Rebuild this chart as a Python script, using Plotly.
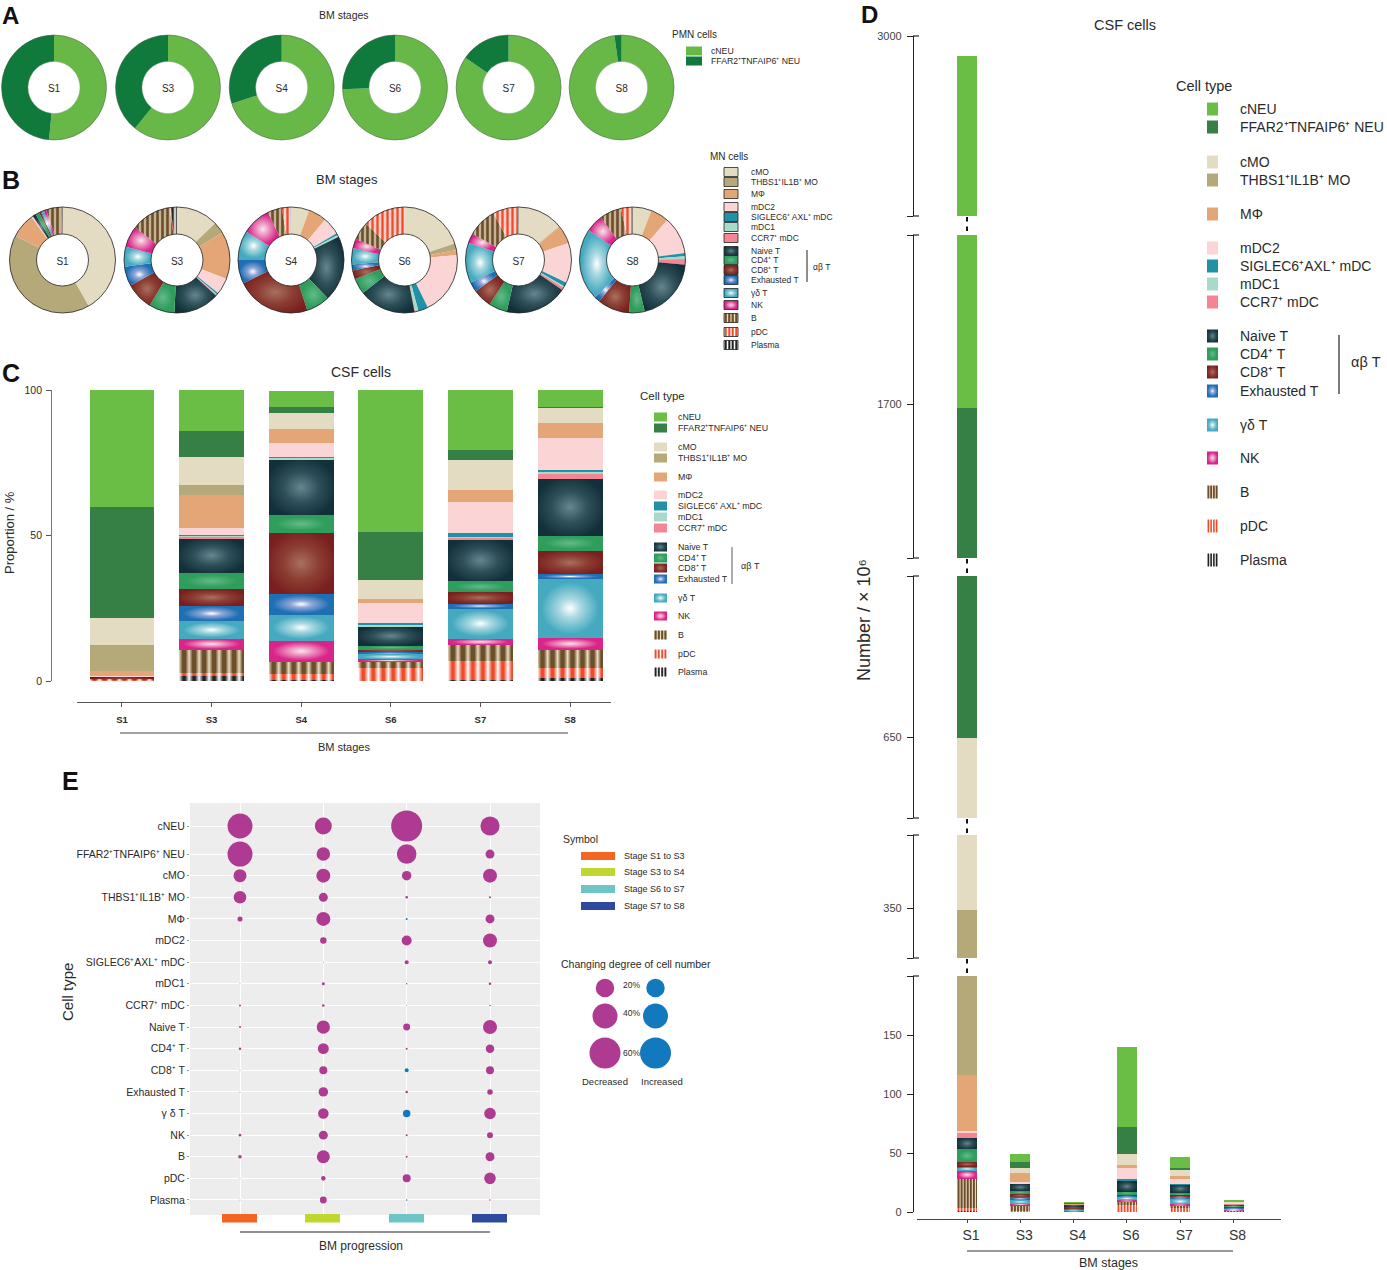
import json
import plotly.graph_objects as go

W, H = 1387, 1270
FONT = "Liberation Sans"
INK = "#2a2a2a"

STAGES = ["S1", "S3", "S4", "S6", "S7", "S8"]
CELLS = ["cNEU", "FFAR2\u207aTNFAIP6\u207a NEU", "cMO", "THBS1\u207aIL1B\u207a MO", "M\u03a6",
         "mDC2", "SIGLEC6\u207aAXL\u207a mDC", "mDC1", "CCR7\u207a mDC", "Naive T",
         "CD4\u207a T", "CD8\u207a T", "Exhausted T", "\u03b3\u03b4 T", "NK", "B", "pDC", "Plasma"]
COLORS = ["#6ABD45", "#367F45", "#E3DBC2", "#B5A97A", "#E5A677", "#FBD5D5", "#2191A8", "#A8D9C9", "#F58593",
          "#12303A", "#2E9E57", "#7A1F1F", "#1E6FB3", "#45AAC0", "#D9248A", "#7A5A33", "#EE4B2B", "#222222"]

# Panel A: share of PMN cells, %
pmn_cNEU = [51.5, 60.8, 70.0, 74.5, 84.6, 97.8]
pmn_FFAR = [48.5, 39.2, 30.0, 25.5, 15.4, 2.2]

# Panel B: share of MN cells, % (order = CELLS[2:])
mn_S1 = [42, 41, 7.5, 0.3, 0, 0, 0.2, 1, 1.2, 0.5, 0.3, 0.7, 0.8, 4.5, 0.3, 0.2]
mn_S3 = [12.8, 3.6, 14.4, 5, 0.5, 0.2, 0.3, 14, 7.8, 8.4, 6, 6, 6.5, 12.3, 0.3, 1.9]
mn_S4 = [5.6, 0, 5.6, 5.4, 0.6, 0.6, 0, 20, 7.2, 22.8, 7.2, 9, 8.8, 4.4, 2.5, 0.3]
mn_S6 = [20, 2, 1.5, 19.3, 3, 1, 0.2, 17.4, 4.8, 2.7, 1.8, 5, 2.9, 5.5, 13, 0]
mn_S7 = [14, 0.2, 5.6, 12.2, 1.3, 0.4, 0.8, 19, 5.6, 5.8, 3, 12.3, 3, 8.9, 7.6, 0.2]
mn_S8 = [5.8, 0, 5.6, 11.5, 1, 0.8, 1.7, 19.9, 4.7, 9.8, 1.7, 22, 5.3, 6.7, 3.2, 0.3]
mn_all = [mn_S1, mn_S3, mn_S4, mn_S6, mn_S7, mn_S8]

# Panel C: proportion of CSF cells, % (order = CELLS)
prop_S1 = [40, 38.3, 9.4, 8.9, 1.7, 0.05, 0, 0.05, 0, 0.4, 0.1, 0.1, 0, 0, 0.05, 0.5, 0.2, 0.2]
prop_S3 = [14, 9, 9.7, 3.3, 11.3, 2.5, 0.2, 0.5, 0.4, 11.9, 5.7, 5.6, 5.4, 5.9, 3.8, 8, 1.1, 1.7]
prop_S4 = [5.5, 2.3, 5.4, 0, 4.8, 4.7, 0.3, 0.8, 0, 19, 6, 21, 7.2, 8.9, 7.3, 4.3, 2, 0.3]
prop_S6 = [48.7, 16.5, 6.5, 0, 1.4, 7, 0.7, 0.4, 0, 6.6, 1.4, 0.9, 0.7, 1.7, 0.9, 2.2, 4.4, 0]
prop_S7 = [20.6, 3.5, 10.2, 0, 4.3, 10.5, 1.3, 0.3, 0.6, 14.4, 3.7, 4, 1.7, 10.3, 2.3, 5.5, 6.6, 0.2]
prop_S8 = [5.7, 0.2, 5.5, 0, 4.9, 11, 0.8, 0.8, 1.5, 19.5, 5.3, 8, 1.6, 20.3, 4, 6.5, 3.4, 0.9]
prop_all = [prop_S1, prop_S3, prop_S4, prop_S6, prop_S7, prop_S8]

# Panel D: number of CSF cells, x10^6 (order = CELLS)
num_S1 = [1277, 1034, 305, 228, 48, 1.5, 0, 0, 4, 10, 10.5, 4, 0.5, 3, 7, 25, 1.5, 1.5]
num_S3 = [7, 4.8, 4.8, 0, 7.4, 1.4, 0, 0, 0, 6, 2.8, 2.8, 2.5, 2.8, 1.7, 4.2, 0.4, 0.8]
num_S4 = [0.4, 0.2, 0.4, 0, 0.4, 0.4, 0, 0, 0, 1.5, 0.5, 1.7, 0.6, 0.7, 0.6, 0.4, 0.2, 0.1]
num_S6 = [68, 23, 9.4, 0, 2, 9.4, 2.2, 0, 0, 8.8, 2.5, 1.1, 0.9, 2.6, 1.1, 3.1, 6, 0]
num_S7 = [9.4, 1.7, 5, 0, 2.3, 4.3, 0.3, 0, 0, 7.4, 2, 1.7, 0.8, 5, 0.7, 2.8, 3, 0]
num_S8 = [0.5, 0, 0.5, 0, 0.4, 1, 0.1, 0.1, 0.2, 1.8, 0.5, 0.8, 0.2, 1.9, 0.4, 0.6, 0.3, 0.1]
num_all = [num_S1, num_S3, num_S4, num_S6, num_S7, num_S8]

# Panel E: changing degree, % (positive decreased, negative increased)
TRANSITIONS = ["S1 to S3", "S3 to S4", "S6 to S7", "S7 to S8"]
ROW_LABELS = CELLS[:13] + ["\u03b3 \u03b4 T"] + CELLS[14:]
ROW_INDEX = [0] + [1.296 + k for k in range(17)]
chg_S1_S3 = [39, 39, 10.5, 9.8, 1.6, 0, 0, 0.06, 0.25, 0.25, 0.4, 0.06, -0.06, 0, 0.4, 0.8, 0.06, 0.06]
chg_S3_S4 = [18, 11.4, 12.25, 5, 12.25, 2.6, 0.06, 0.56, 0.4, 11, 7.5, 4, 5.6, 6.9, 5, 10.5, 1.3, 3]
chg_S6_S7 = [60, 24, 5.6, 0.4, -0.25, 6.25, 1, 0.14, -0.06, 3, 0.25, -1, 0.4, -3.5, 0.25, 0.25, 4, -0.14]
chg_S7_S8 = [23, 5, 12.25, 0.25, 5, 12.25, 1, 0.4, 0.14, 12.25, 4.5, 4, 1.9, 8.3, 2.25, 5, 8.3, 0.14]
chg_all = [chg_S1_S3, chg_S3_S4, chg_S6_S7, chg_S7_S8]
PURPLE, BLUE = "#AE3A92", "#1279BF"

# Gradient fills
GLOW = {9: [("0", "#66868F"), (".5", "#2F5058"), ("1", "#12303A")],
        10: [("0", "#63BA8A"), (".7", "#2F9E5C"), ("1", "#2F9E5C")],
        11: [("0", "#A8705F"), (".5", "#8C3E33"), ("1", "#7A1F1F")],
        12: [("0", "#FFFFFF"), (".3", "#8FA6D8"), (".8", "#1E6FB3"), ("1", "#1E6FB3")],
        13: [("0", "#FFFFFF"), (".3", "#A8D8E0"), (".8", "#45AAC0"), ("1", "#45AAC0")],
        14: [("0", "#FBE4EE"), (".3", "#EE9CC4"), (".8", "#D9248A"), ("1", "#D9248A")]}
STRIPE = {15: [("0", "#EBDCC0"), (".35", "#6B4E2A"), (".65", "#6B4E2A"), ("1", "#EBDCC0")],
          16: [("0", "#FFFFFF"), (".4", "#EE4B2B"), (".6", "#EE4B2B"), ("1", "#FFFFFF")],
          17: [("0", "#FFFFFF"), (".4", "#222222"), (".6", "#222222"), ("1", "#FFFFFF")]}


def stops(lst):
    return "".join(f'<stop offset="{o}" stop-color="{c}"/>' for o, c in lst)


defs = ""
for i, st in GLOW.items():
    defs += f'<radialGradient id="g{i}" cx=".5" cy=".5" r=".55">' + stops(st) + "</radialGradient>"
for i, st in STRIPE.items():
    defs += f'<linearGradient id="g{i}b" x1="0" x2="{1/6.5:.4f}" y1="0" y2="0" spreadMethod="repeat">{stops(st)}</linearGradient>'
    defs += f'<linearGradient id="g{i}s" x1="0" x2=".25" y1="0" y2="0" spreadMethod="repeat">{stops(st)}</linearGradient>'
    defs += f'<linearGradient id="g{i}p" gradientUnits="userSpaceOnUse" x1="0" x2="5" y1="0" y2="0" spreadMethod="repeat">{stops(st)}</linearGradient>'

bar_fill, pie_fill = {}, {}
for i in GLOW:
    bar_fill[CELLS[i]] = pie_fill[CELLS[i]] = f"g{i}"
for i in STRIPE:
    bar_fill[CELLS[i]] = f"g{i}b"
    pie_fill[CELLS[i]] = f"g{i}p"


def X(px):
    return px / W


def Y(py):
    return 1 - py / H


annotations, shapes, shape_fill = [], [], {}


def text(x, y, s, size=10, anchor="center", bold=False, angle=0, color=INK):
    annotations.append(dict(x=X(x), y=Y(y), xref="paper", yref="paper", text=s, showarrow=False, xanchor=anchor,
                            yanchor="middle", textangle=angle, borderpad=0,
                            font=dict(size=size, family=FONT, color=color, weight=700 if bold else 400)))


def line(x0, y0, x1, y1, color="#222222", width=1.0):
    shapes.append(dict(type="line", xref="paper", yref="paper", x0=X(x0), x1=X(x1), y0=Y(y0), y1=Y(y1),
                       line=dict(color=color, width=width)))


def rect(x0, y0, x1, y1, fill, border=None, cell=None, layer="above"):
    if cell is not None:
        if cell in GLOW:
            shape_fill[len(shapes)] = f"g{cell}"
        elif cell in STRIPE:
            shape_fill[len(shapes)] = f"g{cell}s"
    shapes.append(dict(type="rect", xref="paper", yref="paper", x0=X(x0), x1=X(x1), y0=Y(y1), y1=Y(y0), fillcolor=fill,
                       layer=layer, line=dict(color=border or fill, width=0.8 if border else 0)))


def circle(cx, cy, r, fill=None, border=None, width=0.8):
    shapes.append(dict(type="circle", xref="paper", yref="paper", x0=X(cx - r), x1=X(cx + r), y0=Y(cy + r), y1=Y(cy - r),
                       fillcolor=fill or "rgba(0,0,0,0)", line=dict(color=border or "rgba(0,0,0,0)", width=width if border else 0)))


fig = go.Figure()

# ---- Panel A
A_CENTERS = [54, 168, 281.7, 395, 508.6, 621.6]
for k, s in enumerate(STAGES):
    cx, cy, r = A_CENTERS[k], 87.5, 52.5
    fig.add_pie(labels=["cNEU", "FFAR2\u207aTNFAIP6\u207a NEU"], values=[pmn_cNEU[k], pmn_FFAR[k]], hole=0.495, sort=False,
                direction="clockwise", rotation=0, textinfo="none", marker=dict(colors=["#67B847", "#0F7A3C"]),
                domain=dict(x=[X(cx - r), X(cx + r)], y=[Y(cy + r), Y(cy - r)]),
                title=dict(text=s, position="middle center", font=dict(size=10, family=FONT, color=INK)))
    circle(cx, cy, r, border="#4a5a4a", width=0.5)
    circle(cx, cy, r * 0.495, border="#8a9a8a", width=0.4)

# ---- Panel B
B_CENTERS = [62.5, 177, 291, 404.5, 518.5, 632.5]
for k, s in enumerate(STAGES):
    cx, cy, r = B_CENTERS[k], 260, 53
    fig.add_pie(labels=CELLS[2:], values=mn_all[k], hole=0.49, sort=False, direction="clockwise", rotation=0,
                textinfo="none", marker=dict(colors=COLORS[2:]),
                domain=dict(x=[X(cx - r), X(cx + r)], y=[Y(cy + r), Y(cy - r)]),
                title=dict(text=s, position="middle center", font=dict(size=10, family=FONT, color=INK)))
    circle(cx, cy, r, border="#222222", width=0.8)
    circle(cx, cy, r * 0.49, border="#222222", width=0.8)

# ---- Panel C
for i in reversed(range(len(CELLS))):
    fig.add_bar(x=STAGES, y=[v[i] for v in prop_all], name=CELLS[i], width=0.725, marker=dict(color=COLORS[i], line=dict(width=0)),
                xaxis="x", yaxis="y")

# ---- Panel D (broken axis)
D_SEGMENTS = [(36, 216, 2640, 3000, [2640, 3000], ["", "3000"]),
              (235, 558, 850, 2640, [850, 1700, 2640], ["", "1700", ""]),
              (576, 818, 550, 850, [550, 650, 850], ["", "650", ""]),
              (835, 958, 200, 570, [200, 350, 570], ["", "350", ""]),
              (976, 1212, 0, 200, [0, 50, 100, 150, 200], ["0", "50", "100", "150", ""])]
layout_axes = {}
AXIS_X = 913
for n, (top, bot, lo, hi, tv, tt) in enumerate(D_SEGMENTS):
    ya = f"y{n + 2}"
    for i in reversed(range(len(CELLS))):
        fig.add_bar(x=STAGES, y=[v[i] for v in num_all], name=CELLS[i], width=0.375,
                    marker=dict(color=COLORS[i], line=dict(width=0)), xaxis="x2", yaxis=ya)
    layout_axes[f"yaxis{n + 2}"] = dict(domain=[Y(bot), Y(top)], range=[lo, hi], anchor="free", position=X(AXIS_X), tickmode="array",
                                        tickvals=tv, ticktext=tt, ticks="outside", ticklen=6, tickwidth=1.2, tickcolor="#222222",
                                        showline=True, linecolor="#222222", linewidth=1.2, showgrid=False, zeroline=False,
                                        ticklabelstandoff=3, tickfont=dict(size=11, family=FONT, color="#444444"))
    line(AXIS_X, top, AXIS_X + 6, top, width=1.2)
    if lo > 0:
        line(AXIS_X, bot, AXIS_X + 6, bot, width=1.2)
    if n < 4:
        line(967, bot + 1, 967, bot + 5.5, color="#111111", width=2)
        line(967, bot + 10.5, 967, bot + 15, color="#111111", width=2)

# ---- Panel E
rect(190, 803, 540, 1215, "#EDEDED", layer="below")
ex, ey, es, ec = [], [], [], []
for c, col in enumerate(chg_all):
    for r, v in enumerate(col):
        ex.append(TRANSITIONS[c])
        ey.append(ROW_INDEX[r])
        es.append(abs(v))
        ec.append(PURPLE if v >= 0 else BLUE)
fig.add_scatter(x=ex, y=ey, mode="markers", xaxis="x3", yaxis="y7",
                marker=dict(size=es, sizemode="area", sizeref=1 / 8, sizemin=0, color=ec, opacity=1, line=dict(width=0)))

layout_axes["xaxis"] = dict(domain=[X(77), X(611)], range=[-0.502, 5.457], type="category", categoryorder="array", categoryarray=STAGES,
                            anchor="free", position=Y(702), ticks="outside", ticklen=4, tickwidth=1, tickcolor="#555555",
                            showline=True, linecolor="#555555", linewidth=1, showgrid=False, ticklabelstandoff=5,
                            tickfont=dict(size=9.5, family=FONT, color=INK, weight=700))
layout_axes["yaxis"] = dict(domain=[Y(681), Y(390)], range=[0, 100], anchor="free", position=X(51), tickmode="array",
                            tickvals=[0, 50, 100], ticks="outside", ticklen=5, tickwidth=1, tickcolor="#555555", showline=True,
                            linecolor="#777777", linewidth=0.8, showgrid=False, zeroline=False, ticklabelstandoff=2,
                            tickfont=dict(size=10.5, family=FONT, color=INK))
layout_axes["xaxis2"] = dict(domain=[X(917), X(1281)], range=[-0.938, 5.89], type="category", categoryorder="array", categoryarray=STAGES,
                             anchor="free", position=Y(1219), ticks="outside", ticklen=3, tickwidth=1, tickcolor="#444444",
                             showline=True, linecolor="#444444", linewidth=1, showgrid=False, ticklabelshift=4, ticklabelstandoff=0,
                             tickfont=dict(size=14, family=FONT, color="#333333"))
layout_axes["xaxis3"] = dict(domain=[X(190), X(540)], range=[-0.6, 3.6], type="category", categoryorder="array", categoryarray=TRANSITIONS,
                             anchor="y7", showticklabels=False, ticks="", showgrid=True, gridcolor="#FFFFFF", gridwidth=0.8, zeroline=False)
layout_axes["yaxis7"] = dict(domain=[Y(1215), Y(803)], range=[17.99, -1.065], anchor="x3", tickmode="array", tickvals=ROW_INDEX, ticktext=ROW_LABELS,
                             ticks="outside", ticklen=2, tickcolor="#999999", showgrid=True, gridcolor="#FFFFFF", gridwidth=1.2, zeroline=False,
                             tickfont=dict(size=10.5, family=FONT, color=INK))

# ---- Texts and legends
for s, x, y, sz in [("A", 10.5, 15.5, 24), ("B", 10.5, 180, 25), ("C", 11, 373, 25), ("D", 869, 15, 24), ("E", 70, 781, 25)]:
    text(x, y, s, sz, bold=True, color="#111111")
text(344, 15, "BM stages", 10.5)
text(347, 180, "BM stages", 13)
text(361, 372, "CSF cells", 14)
text(9, 533, "Proportion / %", 13, angle=-90)
text(344, 747, "BM stages", 11)
line(120, 733, 568, 733, color="#444444", width=1)
text(1125, 25, "CSF cells", 14.5)
text(864, 620, "Number / \u00d7 10\u2076", 18, angle=-90)
line(967, 1251, 1233, 1251, color="#333333", width=1.2)
text(1108, 1263, "BM stages", 12.5)
text(67, 992, "Cell type", 15, angle=-90)
line(240, 1232, 490, 1232, color="#222222", width=1.2)
text(361, 1246, "BM progression", 12)


def sp(label):
    return label.replace("\u207aAXL", "\u207a AXL")


# Legend A
text(671, 34, "PMN cells", 10, anchor="left")
for yy, lb, c in [(51, CELLS[0], "#67B847"), (61, CELLS[1], "#0F7A3C")]:
    rect(686, yy - 4.5, 702, yy + 4.5, c)
    text(710, yy, lb, 8.7, anchor="left")

# Legend B
text(709, 156, "MN cells", 10, anchor="left")
B_ROWS = [172, 182, 194, 207, 217, 227, 238, 251, 260, 270, 280, 293, 305, 318, 332, 345]
for i, yy in zip(range(2, 18), B_ROWS):
    rect(724, yy - 4.5, 738, yy + 4.5, COLORS[i], border="#222222", cell=i)
    text(749.5, yy, sp(CELLS[i]), 8.5, anchor="left")
line(807, 250, 807, 282, width=1)
text(821, 267, "\u03b1\u03b2 T", 8.5)

# Legend C
text(639, 396, "Cell type", 11.5, anchor="left")
C_ROWS = [417, 428, 447, 458, 477, 495, 506, 517, 528, 547, 558, 568, 579, 598, 616, 635, 654, 672]
for i, yy in enumerate(C_ROWS):
    rect(654, yy - 4.5, 667, yy + 4.5, COLORS[i], cell=i)
    text(676.5, yy, sp(CELLS[i]), 8.8, anchor="left")
line(732, 547, 732, 584, color="#333333", width=0.8)
text(750, 566, "\u03b1\u03b2 T", 9)

# Legend D
text(1175, 86, "Cell type", 14.5, anchor="left")
D_ROWS = [109, 127, 162, 180, 214, 248, 266, 284, 302, 336, 354, 372, 391, 425, 458, 492, 526, 560]
for i, yy in enumerate(D_ROWS):
    rect(1207, yy - 6.5, 1218, yy + 6.5, COLORS[i], cell=i)
    text(1239, yy, CELLS[i], 14, anchor="left")
line(1339, 335, 1339, 394, width=1.2)
text(1366, 362, "\u03b1\u03b2 T", 14.5)

# Legend E
text(562, 839, "Symbol", 10.5, anchor="left")
for yy, lb, c in [(856, "Stage S1 to S3", "#F26522"), (872, "Stage S3 to S4", "#BFD730"), (889, "Stage S6 to S7", "#6EC5C5"), (906, "Stage S7 to S8", "#2E4A9E")]:
    rect(581, yy - 4, 615, yy + 4, c)
    text(623, yy, lb, 9, anchor="left")
for x0, c in zip([222, 305, 389, 472], ["#F26522", "#BFD730", "#6EC5C5", "#2E4A9E"]):
    rect(x0, 1214, x0 + 35, 1222.5, c)
text(560, 964, "Changing degree of cell number", 10.5, anchor="left")
for yy, r, lb in [(988, 9.25, "20%"), (1016, 12.5, "40%"), (1053, 15.5, "60%")]:
    circle(605, yy, r, fill=PURPLE)
    circle(655.5, yy, r, fill=BLUE)
    text(631, yy - 3 if yy < 1050 else yy, lb, 8.5)
text(605, 1081, "Decreased", 9.5)
text(662, 1081, "Increased", 9.5)

fig.update_layout(width=W, height=H, margin=dict(l=0, r=0, t=0, b=0, pad=0, autoexpand=False), autosize=False, barmode="stack", showlegend=False,
                  paper_bgcolor="#FFFFFF", plot_bgcolor="rgba(0,0,0,0)", font=dict(family=FONT, color=INK),
                  annotations=annotations, shapes=shapes, **layout_axes)

post = """
document.body.style.margin='0';
document.documentElement.style.overflow='hidden';
document.body.insertAdjacentHTML('beforeend','<svg width="0" height="0" style="position:absolute"><defs>%s</defs></svg>');
var BAR=%s, PIE=%s, SHP=%s;
var gd=document.querySelector('.js-plotly-plot');
gd.querySelectorAll('.barlayer .trace').forEach(function(t){
  var cd=t.__data__; if(!cd||!cd[0]) return;
  var f=BAR[cd[0].trace.name]; if(!f) return;
  t.querySelectorAll('path').forEach(function(p){p.style.fill='url(#'+f+')';});
});
gd.querySelectorAll('.pielayer .slice').forEach(function(s){
  var f=PIE[s.__data__.label]; if(!f) return;
  s.querySelector('path.surface').style.fill='url(#'+f+')';
});
Object.keys(SHP).forEach(function(k){
  gd.querySelectorAll('.shapelayer path[data-index="'+k+'"]').forEach(function(p){p.style.fill='url(#'+SHP[k]+')';});
});
""" % (defs, json.dumps(bar_fill), json.dumps(pie_fill), json.dumps(shape_fill))

fig.write_html("out.html", post_script=post, config=dict(displayModeBar=False))
